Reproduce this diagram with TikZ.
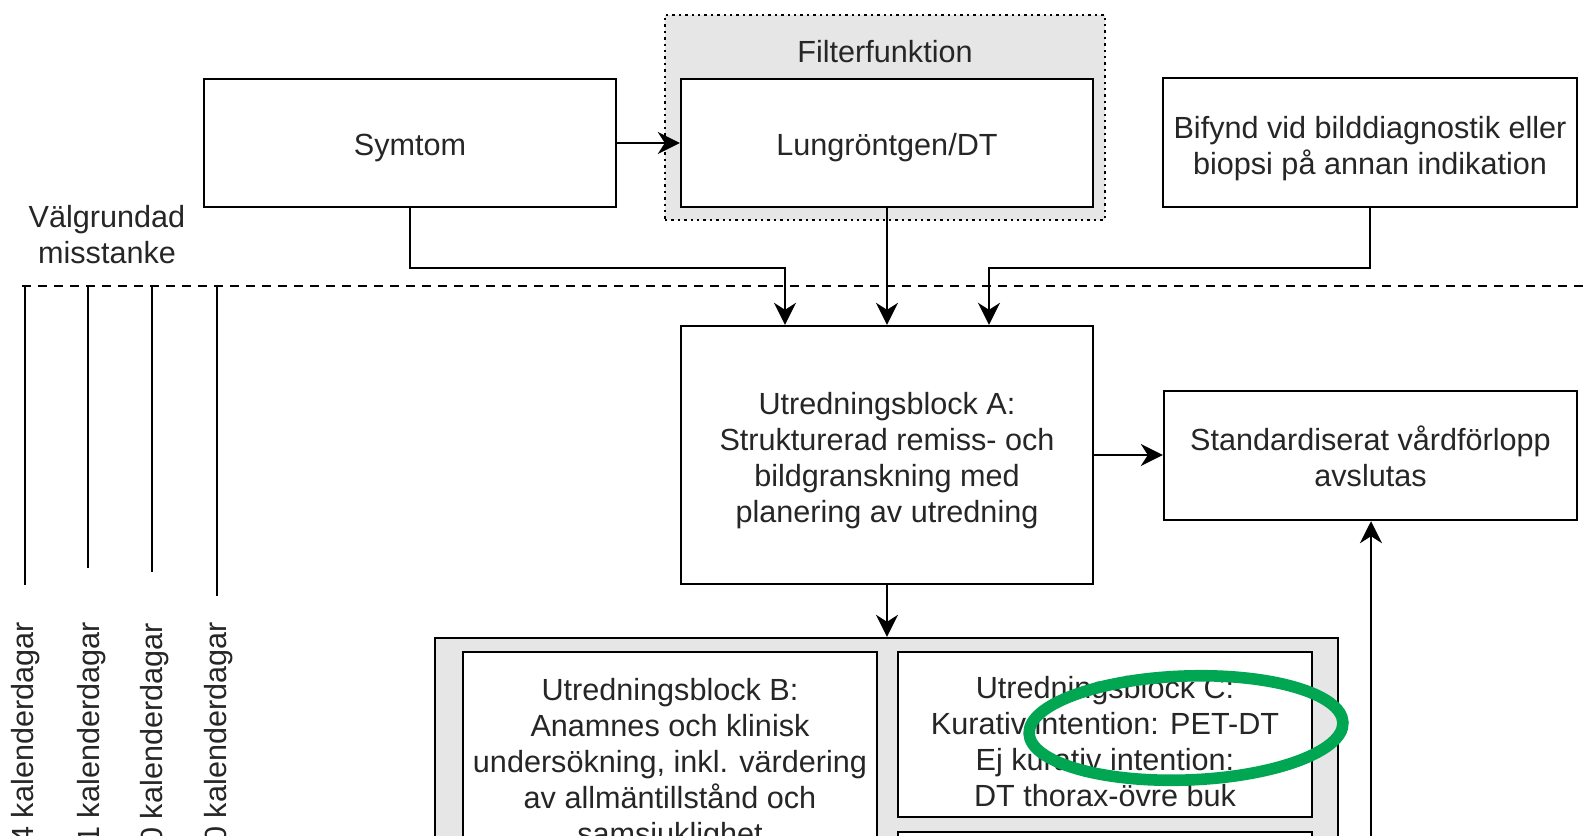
\documentclass[tikz,border=0pt]{standalone}
\usepackage{fontspec}
\setmainfont{Liberation Sans}
\usetikzlibrary{arrows.meta}
\definecolor{panelgrey}{HTML}{E6E6E6}
\definecolor{markgreen}{HTML}{00A651}

\begin{document}
\begin{tikzpicture}[x=0.5pt,y=-0.5pt,
  every node/.style={font=\fontsize{15.3pt}{18pt}\selectfont, text=black!85},
  box/.style={draw, line width=1.2pt, fill=white, inner sep=0pt},
  boxtext/.style={align=center, inner sep=0pt},
  panel/.style={draw, line width=1.2pt, fill=panelgrey, inner sep=0pt},
  conn/.style={line width=1pt, -{Stealth[length=11pt,width=11pt,inset=3.5pt]}},
  timeline/.style={line width=1pt},
  daylabel/.style={rotate=90, anchor=base east, inner sep=0pt}]

\useasboundingbox (0,0) rectangle (1583,835);
\clip (0,0) rectangle (1583,835);
\fill[white] (0,0) rectangle (1583,835);

% filter frame around the chest X-ray step
\node[panel, draw=black, dotted, line width=1.2pt,
      minimum width=220pt, minimum height=102.5pt] (filter) at (885,117.5) {};
\node (filtertitle) at (885,52) {Filterfunktion};

% entry points
\node[box, minimum width=206pt, minimum height=64pt] (symtom) at (410,143) {};
\node[boxtext] (symtomtext) at ([yshift=-2.5pt]symtom.center) {Symtom};
\node[box, minimum width=206pt, minimum height=64pt] (lung) at (887,143) {};
\node[boxtext] (lungtext) at ([yshift=-2.5pt]lung.center) {Lungröntgen/DT};
\node[box, minimum width=207pt, minimum height=64.5pt] (bifynd) at (1370,142.5) {};
\node[boxtext] (bifyndtext) at ([yshift=-2.8pt]bifynd.center)
  {Bifynd vid bilddiagnostik eller\\biopsi på annan indikation};

% threshold for well-founded suspicion
\node[align=center] (misstanke) at (107,235) {Välgrundad\\misstanke};
\coordinate (dashL) at (22,286);
\coordinate (dashR) at (1583,286);
\draw[line width=1pt, dash pattern=on 4.5pt off 3.5pt] (dashL) -- (dashR);

% lead-time bars
\coordinate (t1) at (25,286);
\coordinate (t2) at (88,286);
\coordinate (t3) at (152,286);
\coordinate (t4) at (217,286);
\draw[timeline] (t1) -- ++(0,299);
\draw[timeline] (t2) -- ++(0,282);
\draw[timeline] (t3) -- ++(0,286);
\draw[timeline] (t4) -- ++(0,310);
\node[daylabel] (d1) at (33,622) {44 kalenderdagar};
\node[daylabel] (d2) at (99,622) {41 kalenderdagar};
\node[daylabel] (d3) at (162,623) {40 kalenderdagar};
\node[daylabel] (d4) at (226,622) {30 kalenderdagar};

% block A and exit
\node[box, minimum width=206pt, minimum height=129pt] (blocka) at (887,455) {};
\node[boxtext] (blockatext) at ([yshift=-2.8pt]blocka.center)
  {Utredningsblock A:\\Strukturerad remiss- och\\bildgranskning med\\planering av utredning};
\node[box, minimum width=206.5pt, minimum height=64.5pt] (std) at (1370.5,455.5) {};
\node[boxtext] (stdtext) at ([yshift=-0.6pt]std.center)
  {Standardiserat vårdförlopp\\avslutas};

% parallel blocks B and C
\node[panel, minimum width=451.5pt, minimum height=181pt] (parallel) at (886.5,819) {};
\node[box, minimum width=207pt, minimum height=174pt] (blockb) at (670,826) {};
\node[boxtext, anchor=north] (btext) at (670,678)
  {Utredningsblock B:\\Anamnes och klinisk\\undersökning, inkl. värdering\\av allmäntillstånd och\\samsjuklighet};
\node[box, minimum width=207pt, minimum height=82.5pt] (blockc) at (1105,734.5) {};
\node[boxtext] (ctext) at ([yshift=-3.7pt]blockc.center)
  {Utredningsblock C:\\Kurativ intention: PET-DT\\Ej kurativ intention:\\DT thorax-övre buk};
\node[box, minimum width=207pt, minimum height=84pt] (blockd) at (1105,916) {};

% connectors
\draw[conn] (symtom.east) -- (lung.west);
\draw[conn] (symtom.south) -- ++(0,60) -| ([xshift=-51pt]blocka.north);
\draw[conn] (lung.south) -- (blocka.north);
\draw[conn] (bifynd.south) -- ++(0,60) -| ([xshift=51pt]blocka.north);
\draw[conn] (blocka.east) -- (blocka.east -| std.west);
\draw[conn] (blocka.south) -- (blocka.south |- parallel.north);
\coordinate (upfoot) at (1371,900);
\draw[conn] (upfoot) -- (upfoot |- std.south);

% highlight ring
\draw[markgreen, line width=5.8pt, rotate around={2:(1186,728)}]
  (1186,728) ellipse [x radius=78.5pt, y radius=26pt];
\end{tikzpicture}
\end{document}
